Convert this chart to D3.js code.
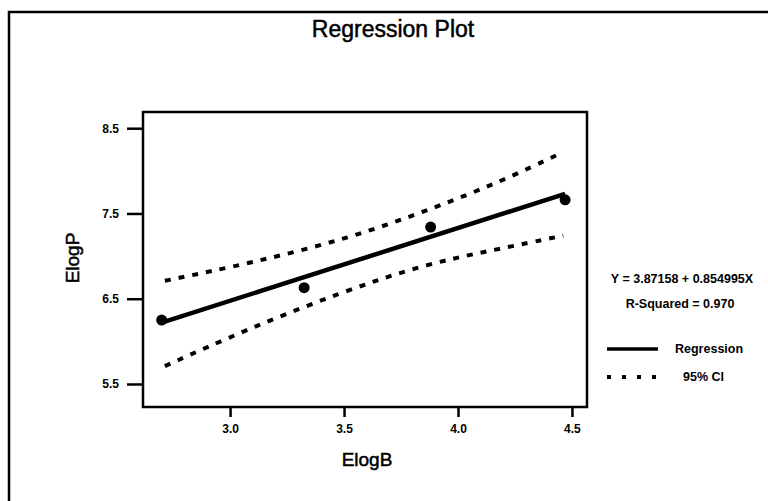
<!DOCTYPE html>
<html>
<head>
<meta charset="utf-8">
<script src="https://cdn.jsdelivr.net/npm/d3@7"></script>
<style>
  body { margin: 0; background: #fff; }
  text { font-family: "Liberation Sans", Arial, Helvetica, sans-serif; fill: #000; }
  .heavy { stroke: #000; stroke-width: 0.5px; }
</style>
</head>
<body>
<div id="chart"></div>
<script>
// observed points (ElogB, ElogP)
var elogB = [2.70, 3.325, 3.88, 4.47];
var elogP = [6.25, 6.63, 7.34, 7.66];

// fitted line
var fitX = [2.70, 4.47];
var fitY = [6.22, 7.73];

// 95% confidence band
var upperX = [2.714, 3.095, 3.526, 3.891, 4.184, 4.462];
var upperY = [6.71, 6.92, 7.21, 7.56, 7.87, 8.22];
var lowerX = [2.714, 3.073, 3.482, 3.847, 4.154, 4.462];
var lowerY = [5.71, 6.14, 6.57, 6.90, 7.07, 7.24];

var xTicks = [3.0, 3.5, 4.0, 4.5];
var yTicks = [5.5, 6.5, 7.5, 8.5];

var width = 768, height = 501;
var margin = {top: 112, right: 181, bottom: 94, left: 143},
    chartWidth = width - margin.left - margin.right,
    chartHeight = height - margin.top - margin.bottom;

var svg = d3.select('#chart').append('svg')
  .attr('width', width)
  .attr('height', height);

// page frame (scan is cut on the right and bottom)
svg.append('path')
  .attr('d', 'M9,501 L9,12 L768,12')
  .attr('fill', 'none')
  .attr('stroke', '#000')
  .attr('stroke-width', 2.5);

svg.append('text')
  .attr('class', 'heavy')
  .attr('x', 393).attr('y', 37)
  .attr('text-anchor', 'middle')
  .style('font-size', '23px')
  .text('Regression Plot');

var chart = svg.append('g')
  .attr('transform', 'translate(' + margin.left + ',' + margin.top + ')');

var x = d3.scaleLinear().domain([2.618, 4.566]).range([0, chartWidth]);
var y = d3.scaleLinear().domain([5.23, 8.69]).range([chartHeight, 0]);

chart.append('rect')
  .attr('width', chartWidth).attr('height', chartHeight)
  .attr('fill', 'none').attr('stroke', '#000').attr('stroke-width', 2.5);

var xAxis = d3.axisBottom(x).tickValues(xTicks).tickFormat(d3.format('.1f'))
  .tickSize(10).tickSizeOuter(0).tickPadding(7);
var yAxis = d3.axisLeft(y).tickValues(yTicks).tickFormat(d3.format('.1f'))
  .tickSize(16).tickSizeOuter(0).tickPadding(8);

var gx = chart.append('g').attr('transform', 'translate(0,' + chartHeight + ')').call(xAxis);
var gy = chart.append('g').call(yAxis);
[gx, gy].forEach(function (g) {
  g.select('.domain').remove();
  g.selectAll('.tick line').attr('stroke', '#000').attr('stroke-width', 2.5);
  g.selectAll('.tick text')
    .style('font-size', '12px').style('font-weight', 'bold')
    .style('font-family', '"Liberation Sans", Arial, sans-serif');
});

svg.append('text')
  .attr('class', 'heavy')
  .attr('x', 367).attr('y', 466)
  .attr('text-anchor', 'middle')
  .style('font-size', '19px')
  .text('ElogB');

svg.append('text')
  .attr('class', 'heavy')
  .attr('transform', 'translate(79,258) rotate(-90)')
  .attr('text-anchor', 'middle')
  .style('font-size', '19px')
  .text('ElogP');

var line = d3.line().x(function (d) { return x(d[0]); }).y(function (d) { return y(d[1]); });

var upper = upperX.map(function (v, i) { return [v, upperY[i]]; });
var lower = lowerX.map(function (v, i) { return [v, lowerY[i]]; });
var fit = fitX.map(function (v, i) { return [v, fitY[i]]; });

[upper, lower].forEach(function (pts) {
  chart.append('path')
    .datum(pts)
    .attr('d', line.curve(d3.curveBasis))
    .attr('fill', 'none')
    .attr('stroke', '#000')
    .attr('stroke-width', 4)
    .attr('stroke-dasharray', '6,8');
});

chart.append('path')
  .datum(fit)
  .attr('d', line.curve(d3.curveLinear))
  .attr('fill', 'none')
  .attr('stroke', '#000')
  .attr('stroke-width', 4.5);

chart.selectAll('circle')
  .data(elogB)
  .enter().append('circle')
  .attr('cx', function (d) { return x(d); })
  .attr('cy', function (d, i) { return y(elogP[i]); })
  .attr('r', 5.5)
  .attr('fill', '#000');

// legend
var legend = svg.append('g');
legend.append('text').attr('x', 682).attr('y', 283).attr('text-anchor', 'middle')
  .style('font-size', '12.5px').style('font-weight', 'bold')
  .text('Y = 3.87158 + 0.854995X');
legend.append('text').attr('x', 680).attr('y', 308).attr('text-anchor', 'middle')
  .style('font-size', '12.5px').style('font-weight', 'bold')
  .text('R-Squared = 0.970');

legend.append('line').attr('x1', 607).attr('x2', 658).attr('y1', 349).attr('y2', 349)
  .attr('stroke', '#000').attr('stroke-width', 3.5);
legend.append('text').attr('x', 675).attr('y', 353)
  .style('font-size', '12.5px').style('font-weight', 'bold')
  .text('Regression');
legend.append('line').attr('x1', 607).attr('x2', 658).attr('y1', 377).attr('y2', 377)
  .attr('stroke', '#000').attr('stroke-width', 4).attr('stroke-dasharray', '4,11');
legend.append('text').attr('x', 683).attr('y', 381)
  .style('font-size', '12.5px').style('font-weight', 'bold')
  .text('95% CI');
</script>
</body>
</html>
